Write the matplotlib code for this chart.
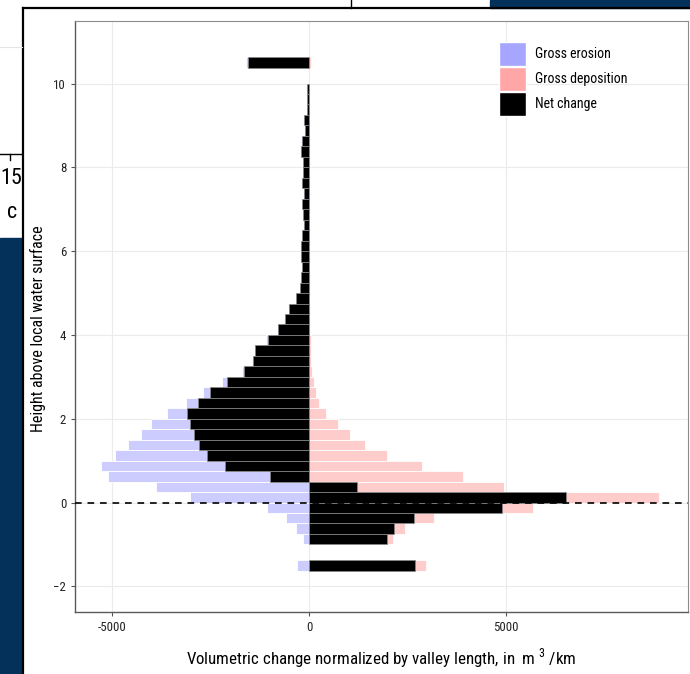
import matplotlib.pyplot as plt
from matplotlib.patches import Patch, Rectangle
from matplotlib.lines import Line2D

# bin centres (height above water surface) and volumes, m3/km
heights = [-1.5, -0.875, -0.625, -0.375, -0.125,
           0.125, 0.375, 0.625, 0.875, 1.125, 1.375, 1.625, 1.875,
           2.125, 2.375, 2.625, 2.875, 3.125, 3.375, 3.625, 3.875,
           4.125, 4.375, 4.625, 4.875, 5.125, 5.375, 5.625, 5.875,
           6.125, 6.375, 6.625, 6.875, 7.125, 7.375, 7.625, 7.875,
           8.125, 8.375, 8.625, 8.875, 9.125, 9.375, 9.625, 9.875,
           10.5]
erosion = [-302, -150, -337, -574, -1064,
           -3030, -3884, -5095, -5265, -4910, -4587, -4265, -4011,
           -3604, -3114, -2682, -2200, -1709, -1455, -1404, -1091,
           -800, -640, -525, -335, -240, -212, -186, -212,
           -222, -178, -142, -160, -178, -142, -195, -160,
           -160, -222, -195, -116, -142, -62, -44, -62,
           -1590]
deposition = [2957, 2136, 2431, 3160, 5675,
              8883, 4937, 3896, 2872, 1974, 1424, 1052, 747,
              425, 256, 171, 120, 86, 53, 53, 40,
              35, 30, 28, 25, 20, 18, 15, 15,
              12, 12, 10, 10, 10, 8, 8, 8,
              8, 6, 6, 5, 5, 4, 3, 3,
              53]
net = [2685, 1991, 2152, 2660, 4904,
       6530, 1221, -989, -2141, -2589, -2784, -2911, -3012,
       -3097, -2826, -2504, -2081, -1658, -1421, -1370, -1040,
       -777, -616, -506, -320, -227, -201, -176, -201,
       -211, -168, -134, -151, -168, -134, -185, -151,
       -151, -211, -185, -109, -134, -58, -41, -58,
       -1557]

labels = ['Gross erosion', 'Gross deposition', 'Net change']
plt.rcParams['font.family'] = ['Roboto Condensed', 'Roboto', 'DejaVu Sans']
plt.rcParams['mathtext.fontset'] = 'custom'
plt.rcParams['mathtext.rm'] = 'Roboto Condensed'

fig = plt.figure(figsize=(6.9, 6.74), dpi=100)

# page elements behind the figure
fig.patches.append(Rectangle((0, 0), 22 / 690, 1 - 238 / 674, transform=fig.transFigure,
                             color='#03315a', zorder=0))
fig.patches.append(Rectangle((490 / 690, 1 - 8 / 674), 200 / 690, 8 / 674,
                             transform=fig.transFigure, color='#03315a', zorder=0))
fig.lines.append(Line2D([23 / 690, 23 / 690], [0, 1 - 8 / 674], transform=fig.transFigure,
                        color='black', lw=1.6, zorder=1))
fig.lines.append(Line2D([23 / 690, 1], [1 - 8 / 674, 1 - 8 / 674], transform=fig.transFigure,
                        color='black', lw=1.6, zorder=1))
fig.lines.append(Line2D([351 / 690, 351 / 690], [1 - 8 / 674, 1], transform=fig.transFigure,
                        color='black', lw=1, zorder=1))
fig.lines.append(Line2D([0, 22 / 690], [1 - 154 / 674, 1 - 154 / 674], transform=fig.transFigure,
                        color='black', lw=1, zorder=1))
fig.lines.append(Line2D([9.5 / 690, 9.5 / 690], [1 - 160 / 674, 1 - 154 / 674],
                        transform=fig.transFigure, color='black', lw=1, zorder=1))
fig.lines.append(Line2D([0, 22 / 690], [1 - 47 / 674, 1 - 47 / 674], transform=fig.transFigure,
                        color='#e4e4e4', lw=0.8, zorder=1))
fig.text(0, 1 - 179 / 674, '15', fontsize=16, va='center', ha='left')
fig.text(7 / 690, 1 - 213 / 674, 'c', fontsize=16, va='center', ha='left')

ax = fig.add_axes([74.5 / 690, 1 - 612.3 / 674, 613 / 690, 591.6 / 674])

ax.barh(heights, erosion, height=0.25, color='#ccccff', edgecolor='white', linewidth=0.6, zorder=2)
ax.barh(heights, deposition, height=0.25, color='#ffcccc', edgecolor='white', linewidth=0.6, zorder=2)
ax.barh(heights, net, height=0.25, color='black', edgecolor='#8a8a8a', linewidth=0.5, zorder=3)
ax.axhline(0, color='black', lw=1.2, ls=(0, (4, 3.5)), zorder=4)

ax.set_xlim(-5949, 9604)
ax.set_ylim(-2.62, 11.5)
ax.set_xticks([-5000, 0, 5000])
ax.set_xticklabels(['-5000', '0', '5000'])
ax.set_yticks([-2, 0, 2, 4, 6, 8, 10])
ax.grid(True, color='#ebebeb', lw=0.8, zorder=0)
ax.set_axisbelow(True)
ax.tick_params(length=3, width=0.8, color='#555555', labelsize=9.3, labelcolor='#222222', pad=3)
for side in ['left', 'bottom']:
    ax.spines[side].set_color('#5a5a5a')
    ax.spines[side].set_linewidth(1.0)
for side in ['top', 'right']:
    ax.spines[side].set_color('#8c8c8c')
    ax.spines[side].set_linewidth(0.8)

ax.set_ylabel('Height above local water surface', fontsize=11.5)
ax.yaxis.set_label_coords(-0.046, 0.48)
ax.set_xlabel('Volumetric change normalized by valley length, in  m$^{\\ 3}$ /km', fontsize=12.2)
ax.xaxis.set_label_coords(0.5, -0.058)

handles = [Patch(facecolor='#a6a6ff', edgecolor='white'),
           Patch(facecolor='#ffa6a6', edgecolor='white'),
           Patch(facecolor='black', edgecolor='white')]
ax.legend(handles, labels, loc='upper left', bbox_to_anchor=(499 / 690, 1 - 42 / 674),
          bbox_transform=fig.transFigure, frameon=False, fontsize=10,
          handlelength=1.95, handleheight=2.3, labelspacing=0.05, handletextpad=0.65,
          borderpad=0, borderaxespad=0)

fig.savefig('out.png', dpi=100)
